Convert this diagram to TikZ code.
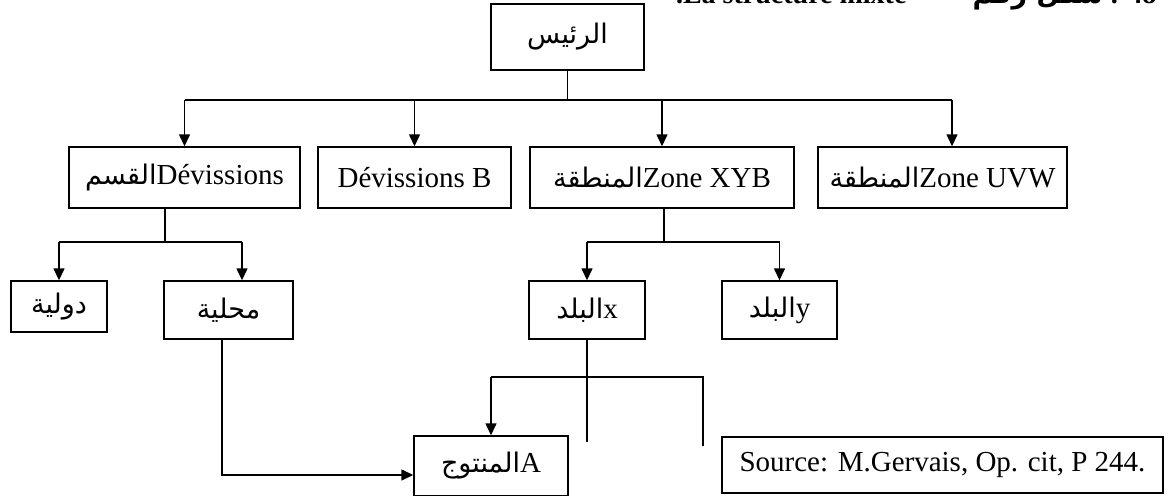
\documentclass[tikz,border=0pt]{standalone}
\usepackage{fontspec}
\setmainfont{Liberation Serif}
\newfontfamily\arabicfont[Script=Arabic]{DejaVu Sans}
\TeXXeTstate=1
\usetikzlibrary{arrows.meta}

% Arabic run inside a mixed label
\newcommand{\ar}[1]{{\arabicfont\fontsize{27}{29}\selectfont\beginR #1\endR}}

\tikzset{
  box/.style={draw, line width=1.4pt, inner sep=0pt, font=\fontsize{29}{31}\selectfont},
  wire/.style={line width=1.4pt},
  arr/.style={line width=1.4pt, -{Triangle[length=12pt,width=11pt]}},
}

\begin{document}
\begin{tikzpicture}[x=1pt,y=-1pt]
\useasboundingbox (0,0) rectangle (1174,495);

% heading line, mostly above the page
\node[anchor=base east, font=\fontsize{28}{30}\selectfont\bfseries] (ttl) at (910,4) {.La structure mixte};
\node[anchor=base east, font=\fontsize{28}{30}\selectfont\bfseries] (fig) at (1160,4) {\ar{شكل رقم} : 48};

% boxes
\node[box, minimum width=153, minimum height=66] (chef) at (567.5,37) {\ar{الرئيس}};

\node[box, minimum width=231, minimum height=61] (d1) at (184.5,177.5) {\ar{القسم}Dévissions};
\node[box, minimum width=193, minimum height=61] (d2) at (414.5,177.5) {Dévissions B};
\node[box, minimum width=264, minimum height=61] (z1) at (662,177.5) {\ar{المنطقة}Zone XYB};
\node[box, minimum width=249, minimum height=61] (z2) at (942.5,177.5) {\ar{المنطقة}Zone UVW};

\node[box, minimum width=96, minimum height=51] (intl) at (59,306.5) {\ar{دولية}};
\node[box, minimum width=129, minimum height=58] (loc) at (228.5,310) {\ar{محلية}};
\node[box, minimum width=116, minimum height=58] (bx) at (587,310) {\ar{البلد}x};
\node[box, minimum width=115, minimum height=58] (by) at (779.5,310) {\ar{البلد}y};

\node[box, minimum width=154, minimum height=60] (prod) at (491,466) {\ar{المنتوج}A};
\node[box, minimum width=441, minimum height=56] (src) at (942.5,465) {Source: M.Gervais, Op. cit, P 244.};

% bus levels
\coordinate (bus1) at (0,100);
\coordinate (bus2) at (0,242);
\coordinate (bus3) at (0,377);
\coordinate (tailA) at (587,442);
\coordinate (tailB) at (703,446);

% first level
\draw[wire] (chef.south) -- (chef.south |- bus1);
\draw[wire] (d1.north |- bus1) -- ([xshift=9.5pt]z2.north |- bus1);
\draw[arr] (d1.north |- bus1) -- (d1.north);
\draw[arr] (d2.north |- bus1) -- (d2.north);
\draw[arr] (z1.north |- bus1) -- (z1.north);
\draw[arr] ([xshift=9.5pt]z2.north |- bus1) -- ([xshift=9.5pt]z2.north);

% under the divisions
\draw[wire] ([xshift=-19.5pt]d1.south) -- ([xshift=-19.5pt]d1.south |- bus2);
\draw[wire] (intl.north |- bus2) -- ([xshift=13.5pt]loc.north |- bus2);
\draw[arr] (intl.north |- bus2) -- (intl.north);
\draw[arr] ([xshift=13.5pt]loc.north |- bus2) -- ([xshift=13.5pt]loc.north);

% under the zone
\draw[wire] ([xshift=2pt]z1.south) -- ([xshift=2pt]z1.south |- bus2);
\draw[wire] (bx.north |- bus2) -- (by.north |- bus2);
\draw[arr] (bx.north |- bus2) -- (bx.north);
\draw[arr] (by.north |- bus2) -- (by.north);

% products
\draw[arr] ([xshift=-6.5pt]loc.south) |- ([yshift=-9pt]prod.west);
\draw[wire] (bx.south) -- (tailA);
\draw[wire] (prod.north |- bus3) -- (tailB |- bus3) -- (tailB);
\draw[arr] (prod.north |- bus3) -- (prod.north);
\end{tikzpicture}
\end{document}
